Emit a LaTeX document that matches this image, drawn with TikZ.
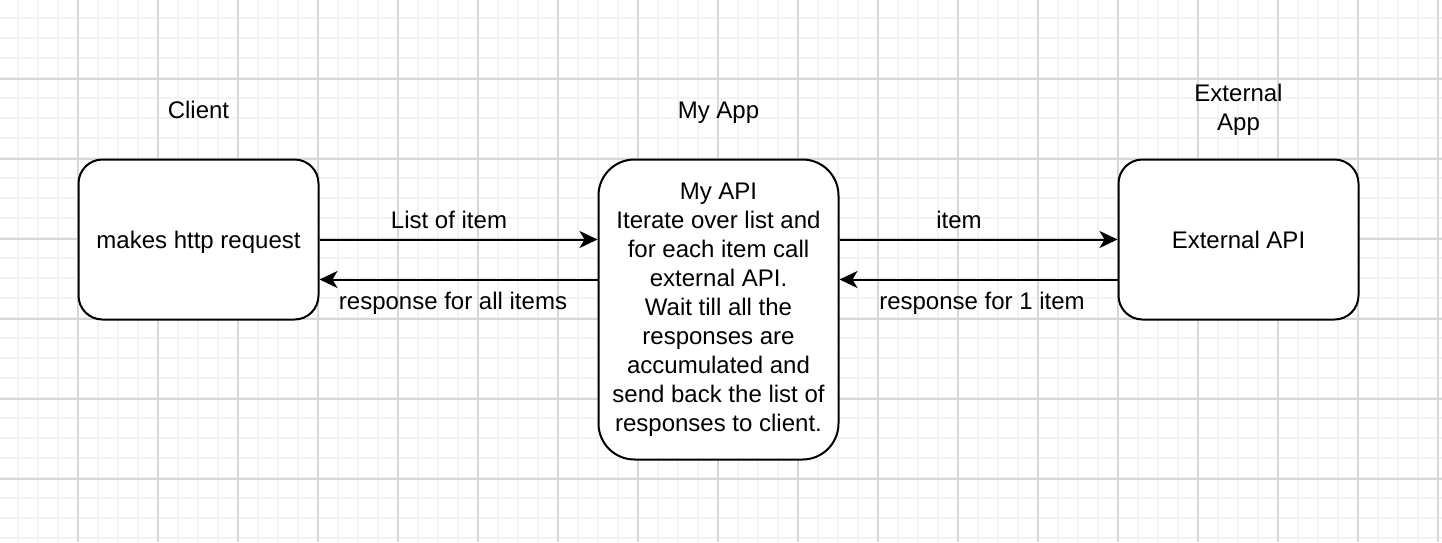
\documentclass[tikz,border=0pt]{standalone}
\usepackage{fontspec}
\setmainfont{Liberation Sans}
\definecolor{GridMinor}{RGB}{243,243,243}
\definecolor{GridMajor}{RGB}{215,215,215}
\usetikzlibrary{arrows.meta, positioning}

\begin{document}
\begin{tikzpicture}[
    x=0.5pt, y=-0.5pt,
    box/.style={draw, line width=1pt, rounded corners=#1, fill=white, align=center, font=\fontsize{12pt}{14.5pt}\selectfont},
    caption/.style={align=center, font=\fontsize{12pt}{14.5pt}\selectfont},
    oneline/.style={text height=10pt, text depth=1pt},
    flow/.style={line width=1pt, -{Stealth[length=9pt, width=8.5pt, inset=2.5pt]}},
    minorgrid/.style={GridMinor, line width=1pt},
    majorgrid/.style={GridMajor, line width=0.6pt}
]
    \useasboundingbox (0,0) rectangle (1442,542);
    \fill[white] (0,0) rectangle (1442,542);
    % grid
    \foreach \x in {18,38,...,1438} \draw[minorgrid] (\x,0) -- (\x,542);
    \foreach \y in {18,38,...,538} \draw[minorgrid] (0,\y) -- (1442,\y);
    \foreach \x in {78,158,...,1438} \draw[majorgrid] (\x,0) -- (\x,542);
    \foreach \y in {79,159,...,479} \draw[majorgrid] (0,\y) -- (1442,\y);

    \node[caption, oneline] (clientcap) at (198.5,109) {Client};
    \node[caption, oneline] (appcap)    at (718.5,109) {My App};
    \node[caption] (extcap)    at (1238.5,110) {External\\App};

    \node[box=12pt, oneline, minimum width=120pt, minimum height=80pt] (client) at (198.5,239.5) {makes http request};
    \node[box=18pt, minimum width=120pt, minimum height=150pt] (app) at (718.5,309.5)
        {My API\\Iterate over list and\\for each item call\\external API.\\Wait till all the\\responses are\\accumulated and\\send back the list of\\responses to client.};
    \node[box=12pt, oneline, minimum width=120pt, minimum height=80pt] (ext) at (1238.5,239.5) {External API};

    \coordinate (back1) at ([yshift=-20pt]client.east);
    \coordinate (back2) at ([yshift=-20pt]ext.west);
    \draw[flow] (client.east) -- (client.east -| app.west);
    \draw[flow] (back1 -| app.west) -- (back1);
    \draw[flow] (ext.west -| app.east) -- (ext.west);
    \draw[flow] (back2) -- (back2 -| app.east);

    \node[caption, oneline] (req)   at (449,219) {List of item};
    \node[caption, oneline] (resp)  at (453,300) {response for all items};
    \node[caption, oneline] (item)  at (959,219) {item};
    \node[caption, oneline] (resp1) at (982,300) {response for 1 item};
\end{tikzpicture}
\end{document}
